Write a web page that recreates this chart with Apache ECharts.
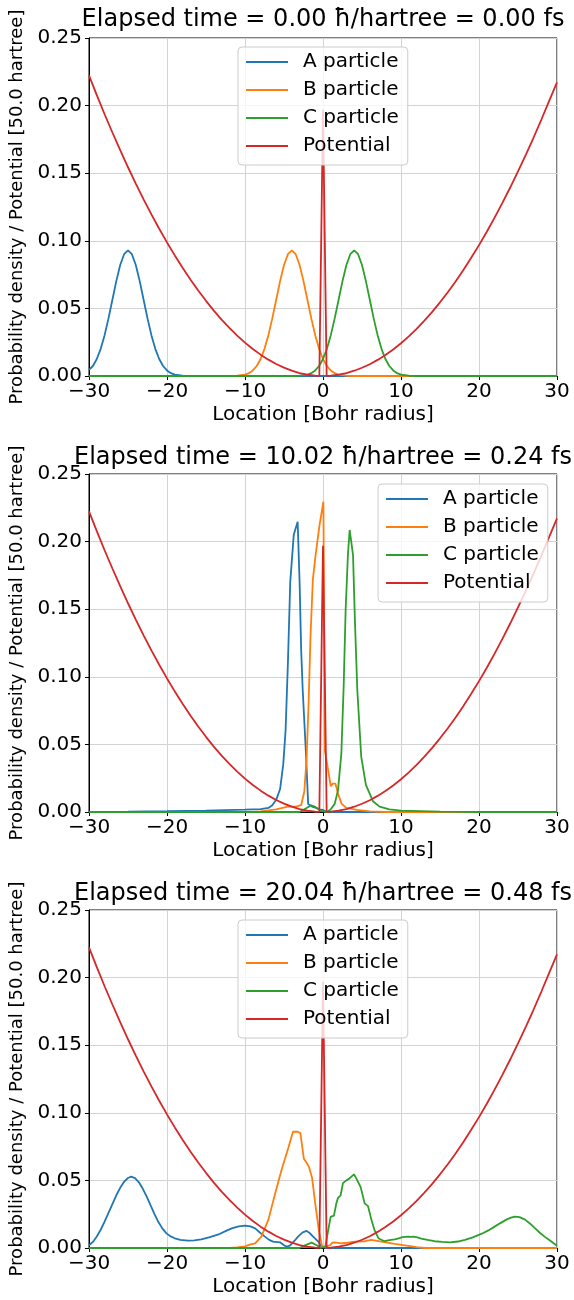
<!DOCTYPE html>
<html><head><meta charset="utf-8">
<script src="https://cdn.jsdelivr.net/npm/echarts@6/dist/echarts.min.js"></script>
<style>html,body{margin:0;padding:0;background:#fff}#c{width:574px;height:1300px}</style>
</head><body><div id="c"></div>
<script>
const titles = [
  'Elapsed time = 0.00 ħ/hartree = 0.00 fs',
  'Elapsed time = 10.02 ħ/hartree = 0.24 fs',
  'Elapsed time = 20.04 ħ/hartree = 0.48 fs'
];
const seriesNames = ['A particle', 'B particle', 'C particle', 'Potential'];
const xTicks = [-30, -20, -10, 0, 10, 20, 30];
const yTicks = [0, 0.05, 0.10, 0.15, 0.20, 0.25];
const xLabel = 'Location [Bohr radius]';
const yLabel = 'Probability density / Potential [50.0 hartree]';

// Potential (same in all panels)
const potentialX = [-30,-29,-28,-27,-26,-25,-24,-23,-22,-21,-20,-19,-18,-17,-16,-15,-14,-13,-12,-11,-10,-9,-8,-7,-6,-5,-4,-3,-2,-1,-0.47,0,0.47,1,2,3,4,5,6,7,8,9,10,11,12,13,14,15,16,17,18,19,20,21,22,23,24,25,26,27,28,29,30];
const potentialY = [0.2223,0.2077,0.1936,0.1801,0.1670,0.1544,0.1423,0.1307,0.1195,0.1089,0.0988,0.0892,0.0800,0.0714,0.0632,0.0556,0.0484,0.0417,0.0356,0.0299,0.0247,0.0200,0.0158,0.0121,0.0089,0.0062,0.0040,0.0022,0.0010,0.0002,0.0001,0.1970,0.0001,0.0002,0.0010,0.0022,0.0039,0.0061,0.0087,0.0119,0.0155,0.0196,0.0242,0.0293,0.0348,0.0409,0.0474,0.0545,0.0620,0.0699,0.0784,0.0874,0.0968,0.1067,0.1171,0.1280,0.1394,0.1513,0.1636,0.1764,0.1897,0.2035,0.2172];

// Panel 1: t = 0.00
const t0A = [[-30,0.0045],[-29.5,0.0074],[-29,0.0126],[-28.5,0.0201],[-28,0.0302],[-27.5,0.0426],[-27,0.0564],[-26.5,0.0702],[-26,0.0821],[-25.5,0.0901],[-25,0.093],[-24.5,0.0901],[-24,0.0821],[-23.5,0.0702],[-23,0.0564],[-22.5,0.0426],[-22,0.0302],[-21.5,0.0201],[-21,0.0126],[-20.5,0.0074],[-20,0.0041],[-19.5,0.0021],[-19,0.0010],[-18,0.0002],[-17,0],[30,0]];
const t0B = [[-30,0],[-12,0],[-11,0.0002],[-10,0.0010],[-9.5,0.0021],[-9,0.0041],[-8.5,0.0074],[-8,0.0126],[-7.5,0.0201],[-7,0.0302],[-6.5,0.0426],[-6,0.0564],[-5.5,0.0702],[-5,0.0821],[-4.5,0.0901],[-4,0.093],[-3.5,0.0901],[-3,0.0821],[-2.5,0.0702],[-2,0.0564],[-1.5,0.0426],[-1,0.0302],[-0.5,0.0201],[0,0.0126],[0.5,0.0074],[1,0.0041],[1.5,0.0021],[2,0.0010],[3,0.0002],[4,0],[30,0]];
const t0C = [[-30,0],[-4,0],[-3,0.0002],[-2,0.0010],[-1.5,0.0021],[-1,0.0041],[-0.5,0.0074],[0,0.0126],[0.5,0.0201],[1,0.0302],[1.5,0.0426],[2,0.0564],[2.5,0.0702],[3,0.0821],[3.5,0.0901],[4,0.093],[4.5,0.0901],[5,0.0821],[5.5,0.0702],[6,0.0564],[6.5,0.0426],[7,0.0302],[7.5,0.0201],[8,0.0126],[8.5,0.0074],[9,0.0041],[9.5,0.0021],[10,0.0010],[11,0.0002],[12,0],[30,0]];

// Panel 2: t = 10.02
const t1A = [[-30,0.0001],[-25,0.0003],[-20,0.0006],[-15,0.001],[-10,0.0017],[-8,0.0022],[-7,0.003],[-6.5,0.005],[-6,0.009],[-5.5,0.017],[-5.1,0.035],[-4.8,0.06],[-4.5,0.11],[-4.2,0.17],[-3.75,0.205],[-3.25,0.2147],[-3.0,0.17],[-2.8,0.12],[-2.6,0.09],[-2.2,0.045],[-1.9,0.006],[-1.4,0.004],[-0.9,0.003],[-0.45,0.002],[0,0.0015],[0.45,0.0002],[1,0],[30,0]];
const t1B = [[-30,0],[-9,0],[-8,0.0005],[-6,0.002],[-4.5,0.004],[-3.5,0.004],[-2.8,0.005],[-2.4,0.015],[-2.1,0.04],[-1.85,0.08],[-1.6,0.13],[-1.3,0.172],[-0.95,0.19],[-0.45,0.212],[0.05,0.2295],[0.25,0.045],[0.6,0.033],[1.0,0.019],[1.25,0.021],[1.6,0.021],[1.95,0.013],[2.4,0.006],[3,0.003],[4.3,0.0015],[6,0.0005],[8,0],[30,0]];
const t1C = [[-30,0],[-3,0],[-2.1,0.003],[-1.5,0.005],[-1.07,0.004],[-0.43,0.0015],[0,0.0005],[0.5,0],[1.0,0.002],[1.5,0.006],[1.92,0.016],[2.35,0.043],[2.65,0.093],[2.9,0.149],[3.2,0.191],[3.42,0.2086],[3.85,0.19],[4.1,0.14],[4.4,0.09],[4.9,0.041],[5.5,0.02],[6.4,0.008],[7.26,0.004],[8.5,0.002],[10,0.001],[15,0.0003],[20,0],[30,0]];

// Panel 3: t = 20.04
const t2A = [[-30,0.002],[-29.5,0.0045],[-29,0.0085],[-28.5,0.0135],[-28,0.0195],[-27.5,0.026],[-27,0.0325],[-26.5,0.039],[-26,0.0445],[-25.5,0.049],[-25,0.0518],[-24.6,0.0528],[-24.1,0.0517],[-23.6,0.0486],[-23.1,0.0438],[-22.6,0.038],[-22.1,0.0315],[-21.6,0.0251],[-21.1,0.0192],[-20.6,0.0145],[-20.1,0.011],[-19.6,0.0088],[-19,0.0072],[-18.3,0.006],[-17.3,0.0054],[-16.5,0.0057],[-15.6,0.0064],[-14.5,0.008],[-13.4,0.010],[-12.5,0.0125],[-11.7,0.0145],[-10.8,0.016],[-10,0.0165],[-9.3,0.016],[-8.7,0.0145],[-8.1,0.0115],[-7.5,0.0086],[-6.9,0.006],[-6.4,0.0047],[-5.5,0.0042],[-5.0,0.002],[-4.67,0.001],[-4.24,0.0017],[-3.7,0.005],[-3.2,0.0084],[-2.6,0.0115],[-2.1,0.0126],[-1.8,0.0115],[-1.46,0.0096],[-1.0,0.007],[-0.6,0.0047],[-0.2,0.001],[0.3,0],[30,0]];
const t2B = [[-30,0],[-12,0],[-11,0.0005],[-10,0.0012],[-9.4,0.0025],[-8.7,0.0035],[-7.9,0.0084],[-7.0,0.021],[-6.15,0.040],[-5.3,0.058],[-4.45,0.074],[-3.85,0.086],[-3.25,0.086],[-2.9,0.085],[-2.45,0.066],[-2.1,0.063],[-1.8,0.060],[-1.4,0.052],[-1.0,0.033],[-0.5,0.012],[-0.1,0.001],[0.26,0.001],[0.9,0.002],[1.2,0.004],[1.5,0.0042],[2.4,0.0035],[3.2,0.004],[4.1,0.0047],[5.4,0.005],[6.2,0.006],[7.5,0.0047],[9.2,0.003],[10.5,0.002],[12,0.0006],[13,0],[30,0]];
const t2C = [[-30,0],[-3,0],[-2.3,0.002],[-1.46,0.004],[-0.8,0.002],[-0.3,0],[0.3,0.001],[0.6,0.011],[0.98,0.023],[1.4,0.024],[1.71,0.033],[1.92,0.037],[2.26,0.039],[2.56,0.048],[2.99,0.050],[3.4,0.0515],[3.97,0.0545],[4.27,0.0515],[4.83,0.045],[5.34,0.033],[5.77,0.031],[6.2,0.021],[6.62,0.013],[7.14,0.007],[7.9,0.005],[8.5,0.0058],[9.2,0.0064],[9.7,0.0072],[10.2,0.008],[10.9,0.0084],[11.3,0.0082],[11.6,0.0084],[12.1,0.0078],[12.6,0.007],[13.4,0.006],[14.3,0.005],[15.3,0.0045],[16.3,0.0042],[17.3,0.0048],[18.2,0.006],[19.2,0.0078],[20.3,0.0104],[21.2,0.013],[22,0.0158],[22.8,0.0186],[23.5,0.021],[24.1,0.0225],[24.6,0.0232],[25.2,0.0228],[25.9,0.021],[26.6,0.0178],[27.2,0.0145],[27.8,0.0113],[28.4,0.0084],[29.1,0.0055],[29.7,0.003],[30,0.0017]];

const panels = [[t0A, t0B, t0C], [t1A, t1B, t1C], [t2A, t2B, t2C]];
const colors = ['#1f77b4', '#ff7f0e', '#2ca02c', '#d62728'];
const FONT = '"DejaVu Sans", sans-serif';

const gridTops = [38, 474, 910];
const titleY = [20, 457.5, 893.5];
const legendPos = [{ left: 238, top: 47 }, { left: 378, top: 484 }, { left: 238, top: 920 }];
const potential = potentialX.map((x, i) => [x, potentialY[i]]);

const fmtX = v => (v < 0 ? '\u2212' + (-v) : String(v));

const grid = [], xAxis = [], yAxis = [], series = [], legend = [], graphic = [];
gridTops.forEach((top, i) => {
  grid.push({ left: 89, top: top, width: 468, height: 338, show: true, borderColor: '#000', borderWidth: 1, backgroundColor: 'transparent' });
  xAxis.push({
    gridIndex: i, type: 'value', min: xTicks[0], max: xTicks[xTicks.length - 1], interval: 10,
    axisLine: { show: true, onZero: false, lineStyle: { color: '#000', width: 1 } },
    axisTick: { show: true, length: 4, lineStyle: { color: '#000', width: 1 } },
    axisLabel: { fontSize: 20, color: '#000', fontFamily: FONT, margin: 6, formatter: fmtX, showMinLabel: true, showMaxLabel: true },
    splitLine: { show: true, lineStyle: { color: '#d3d3d3', width: 1 } },
    name: xLabel, nameLocation: 'middle', nameGap: 29,
    nameTextStyle: { fontSize: 20, color: '#000', fontFamily: FONT }
  });
  yAxis.push({
    gridIndex: i, type: 'value', min: yTicks[0], max: yTicks[yTicks.length - 1], interval: 0.05,
    axisLine: { show: true, onZero: false, lineStyle: { color: '#000', width: 1 } },
    axisTick: { show: true, length: 4, lineStyle: { color: '#000', width: 1 } },
    axisLabel: { fontSize: 20, color: '#000', fontFamily: FONT, margin: 7, formatter: v => v.toFixed(2), showMinLabel: true, showMaxLabel: true },
    splitLine: { show: true, lineStyle: { color: '#d3d3d3', width: 1 } },
    name: yLabel, nameLocation: 'middle', nameGap: 61, nameRotate: 90,
    nameTextStyle: { fontSize: 18, color: '#000', fontFamily: FONT }
  });
  const sets = panels[i].concat([potential]);
  sets.forEach((d, k) => {
    series.push({
      name: seriesNames[k], type: 'line', xAxisIndex: i, yAxisIndex: i, data: d,
      symbol: 'none', smooth: false, color: colors[k],
      lineStyle: { color: colors[k], width: 1.8 }, z: 2 + k * 0.1, silent: true
    });
  });
  legend.push({
    data: seriesNames, left: legendPos[i].left, top: legendPos[i].top, orient: 'vertical',
    icon: 'rect', itemWidth: 42, itemHeight: 2, itemGap: 8, padding: [5, 9, 9, 8],
    backgroundColor: 'rgba(255,255,255,0.8)', borderColor: '#cccccc', borderWidth: 1, borderRadius: 4,
    selectedMode: false,
    textStyle: { fontSize: 20, color: '#000', fontFamily: FONT, lineHeight: 20, padding: [0, 0, 0, 10] }
  });
  graphic.push({
    type: 'text', x: 323, y: titleY[i], z: 10,
    style: { text: titles[i], font: '24px ' + FONT, fill: '#000', textAlign: 'center', textVerticalAlign: 'middle' }
  });
});

const chart = echarts.init(document.getElementById('c'), null, { renderer: 'canvas' });
chart.setOption({ animation: false, backgroundColor: '#fff', grid, xAxis, yAxis, series, legend, graphic });
</script>
</body></html>
